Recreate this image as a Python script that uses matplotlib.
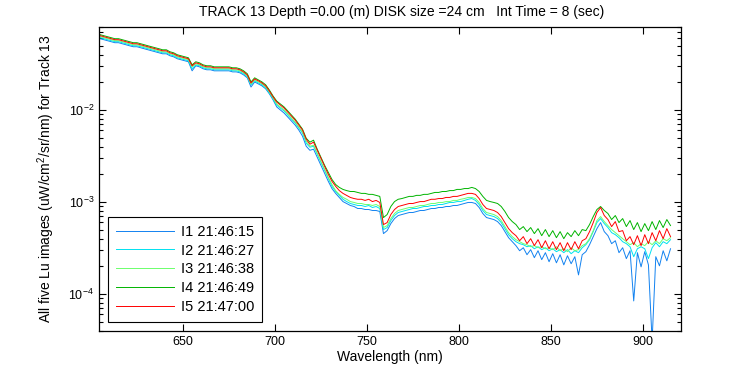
import matplotlib

matplotlib.use("Agg")
import matplotlib.pyplot as plt
import numpy as np

plt.rcParams["font.family"] = ["Liberation Sans", "DejaVu Sans"]
plt.rcParams["mathtext.default"] = "regular"

# wavelength grid (nm), 2 nm sampling
wavelength = np.arange(605, 916, 2)

labels = ["I1 21:46:15", "I2 21:46:27", "I3 21:46:38", "I4 21:46:49", "I5 21:47:00"]
colors = ["#1282f0", "#00e1f0", "#6cff6c", "#00b400", "#ff0000"]

# Lu (uW/cm^2/sr/nm)
lu_i1 = [
    .0597, .0582, .0568, .0554, .0540, .0540, .0526, .0513, .0500, .0488, .0488, .0476, .0464, .0452, .0441, .0430,
    .0419, .0409, .0409, .0389, .0379, .0361, .0352, .0343, .0335, .0267, .0303, .0295, .0281, .0274, .0274, .0267,
    .0267, .0267, .0267, .0267, .0260, .0260, .0254, .0241, .0224, .0178, .0202, .0192, .0183, .0170, .0150, .0129,
    .0108, .0100, .00927, .00839, .00758, .00686, .00605, .00520, .00404, .00365, .00375, .00307, .00251, .00205,
    .00168, .00140, .00124, .00112, .00101, .000963, .000916, .000893, .000849,
    .000849, .000828, .000828, .000808, .000808, .000788, .000453, .000488, .000582, .000660, .000712, .000730,
    .000749, .000768, .000768, .000788, .000808, .000808, .000828, .000849, .000849, .000871, .000871, .000893,
    .000893, .000916, .000916, .000939, .000963, .000988, .000988, .000963, .000871, .000749, .000677, .000660,
    .000644, .000612, .000554, .000476, .000409, .000370,
    .000335, .000295, .000318, .000267, .000303, .000248, .000295, .000236, .000281, .000224, .000274, .000218,
    .000267, .000207, .000260, .000213, .000254, .000161, .000267, .000288, .000343, .000420, .000513, .000597,
    .000476, .000430, .000352, .000379, .000281, .000318, .000242, .000295, .0000839, .000281, .000197, .000288,
    .000207, .0000309, .000254, .000202, .000295, .000229, .000310,
]
lu_i2 = [
    .0613, .0597, .0582, .0568, .0554, .0554, .0540, .0526, .0513, .0500, .0500, .0488, .0476, .0464, .0452, .0441,
    .0430, .0419, .0419, .0399, .0389, .0370, .0361, .0352, .0343, .0281, .0310, .0303, .0288, .0281, .0281, .0274,
    .0274, .0274, .0274, .0274, .0267, .0267, .0260, .0248, .0230, .0188, .0208, .0197, .0188, .0174, .0153, .0132,
    .0113, .0105, .00975, .00882, .00797, .00721, .00636, .00561, .00436, .00394, .00404, .00331, .00270, .00221,
    .00181, .00148, .00130, .00118, .00107, .00101, .000963, .000939, .000916,
    .000916, .000893, .000916, .000871, .000893, .000849, .000501, .000527, .000628, .000712, .000768, .000788,
    .000808, .000828, .000849, .000849, .000871, .000893, .000893, .000916, .000916, .000939, .000939, .000963,
    .000988, .000988, .00101, .00101, .00104, .00107, .00109, .00104, .000939, .000808, .000730, .000712,
    .000694, .000660, .000597, .000513, .000441, .000399,
    .000370, .000352, .000343, .000326, .000335, .000310, .000326, .000303, .000318, .000295, .000310, .000288,
    .000303, .000281, .000303, .000274, .000295, .000281, .000318, .000343, .000389, .000476, .000597, .000660,
    .000582, .000527, .000464, .000441, .000409, .000370, .000352, .000326, .000254, .000310, .000326, .000310,
    .000242, .000318, .000361, .000326, .000370, .000352, .000389,
]
lu_i3 = [
    .0628, .0613, .0597, .0582, .0568, .0568, .0554, .0540, .0526, .0513, .0513, .0500, .0488, .0476, .0464, .0452,
    .0441, .0430, .0430, .0409, .0399, .0379, .0370, .0361, .0352, .0295, .0318, .0310, .0295, .0288, .0288, .0281,
    .0281, .0281, .0281, .0281, .0274, .0274, .0267, .0254, .0235, .0192, .0213, .0202, .0192, .0178, .0157, .0135,
    .0116, .0108, .0100, .00904, .00818, .00739, .00652, .00575, .00458, .00404, .00414, .00339, .00277, .00227,
    .00185, .00155, .00133, .00121, .00112, .00107, .00101, .000988, .000963,
    .000963, .000939, .000939, .000916, .000939, .000893, .000527, .000554, .000660, .000749, .000808, .000828,
    .000849, .000871, .000871, .000893, .000916, .000916, .000939, .000963, .000963, .000988, .000988, .00101,
    .00101, .00104, .00104, .00107, .00109, .00112, .00112, .00109, .000988, .000849, .000768, .000749,
    .000730, .000694, .000628, .000540, .000464, .000420,
    .000389, .000370, .000352, .000343, .000326, .000335, .000318, .000326, .000310, .000318, .000303, .000326,
    .000295, .000310, .000288, .000318, .000295, .000303, .000335, .000352, .000399, .000488, .000628, .000694,
    .000612, .000554, .000501, .000464, .000430, .000399, .000370, .000343, .000361, .000326, .000352, .000335,
    .000370, .000343, .000379, .000352, .000399, .000379, .000409,
]
lu_i4 = [
    .0660, .0644, .0628, .0613, .0597, .0597, .0582, .0568, .0554, .0540, .0540, .0526, .0513, .0500, .0488, .0476,
    .0464, .0452, .0452, .0430, .0419, .0399, .0389, .0379, .0370, .0310, .0335, .0326, .0310, .0303, .0303, .0295,
    .0295, .0295, .0295, .0295, .0288, .0288, .0281, .0267, .0248, .0202, .0224, .0213, .0202, .0188, .0165, .0142,
    .0125, .0116, .0108, .00975, .00882, .00797, .00703, .00620, .00494, .00447, .00470, .00375, .00307, .00251,
    .00210, .00176, .00155, .00144, .00137, .00133, .00130, .00130, .00127,
    .00124, .00124, .00121, .00121, .00118, .00115, .000677, .000730, .000893, .00101, .00107, .00109,
    .00112, .00115, .00115, .00118, .00118, .00121, .00121, .00124, .00127, .00127, .00130, .00130,
    .00133, .00133, .00137, .00137, .00140, .00140, .00144, .00140, .00130, .00115, .00104, .00101,
    .000988, .000963, .000893, .000788, .000677, .000612,
    .000568, .000501, .000540, .000476, .000527, .000453, .000513, .000430, .000501, .000420, .000488, .000409,
    .000476, .000399, .000464, .000420, .000488, .000430, .000501, .000488, .000568, .000694, .000828, .000893,
    .000808, .000749, .000644, .000712, .000597, .000660, .000540, .000628, .000501, .000597, .000476, .000582,
    .000488, .000612, .000501, .000628, .000527, .000644, .000554,
]
lu_i5 = [
    .0644, .0628, .0613, .0597, .0582, .0582, .0568, .0554, .0540, .0526, .0526, .0513, .0500, .0488, .0476, .0464,
    .0452, .0441, .0441, .0419, .0409, .0389, .0379, .0370, .0361, .0303, .0326, .0318, .0303, .0295, .0295, .0288,
    .0288, .0288, .0288, .0288, .0281, .0281, .0274, .0260, .0241, .0197, .0218, .0208, .0197, .0183, .0161, .0139,
    .0122, .0113, .0105, .00951, .00860, .00777, .00686, .00605, .00482, .00425, .00447, .00365, .00299, .00244,
    .00200, .00168, .00148, .00133, .00124, .00118, .00112, .00109, .00107,
    .00107, .00104, .00107, .00101, .00104, .000988, .000568, .000597, .000730, .000828, .000893, .000916,
    .000939, .000963, .000963, .000988, .00101, .00101, .00104, .00107, .00107, .00109, .00109, .00112,
    .00112, .00115, .00115, .00118, .00121, .00124, .00124, .00121, .00109, .000939, .000849, .000828,
    .000808, .000768, .000694, .000597, .000513, .000464,
    .000430, .000379, .000420, .000352, .000399, .000335, .000389, .000318, .000379, .000310, .000370, .000303,
    .000361, .000295, .000361, .000303, .000370, .000310, .000379, .000399, .000476, .000597, .000768, .000871,
    .000712, .000644, .000540, .000612, .000476, .000488, .000379, .000420, .000343, .000430, .000335, .000441,
    .000352, .000464, .000379, .000488, .000399, .000513, .000420,
]
series = [lu_i1, lu_i2, lu_i3, lu_i4, lu_i5]

fig = plt.figure(figsize=(7.5, 3.75), dpi=100)
ax = fig.add_axes([0.132, 0.1173, 0.776, 0.8107])
for values, color, label in zip(series, colors, labels):
    ax.plot(wavelength, values, color=color, linewidth=0.7, label=label)

ax.set_yscale("log")
ax.set_xlim(604.4, 920.7)
ax.set_ylim(3.95e-5, 0.08)
ax.set_xticks([650, 700, 750, 800, 850, 900])
ax.minorticks_off()
ax.yaxis.set_minor_locator(matplotlib.ticker.LogLocator(base=10, subs=np.arange(2, 10)))
ax.tick_params(which="both", direction="in", top=True, right=True, labelsize=9, width=0.8, colors="black")
ax.tick_params(which="major", length=5)
ax.tick_params(which="minor", length=3)
for spine in ax.spines.values():
    spine.set_linewidth(0.9)

ax.set_xlabel("Wavelength (nm)", fontsize=10)
ax.xaxis.set_label_coords(0.5, -0.064)
ax.set_ylabel("All five Lu images (uW/cm$^{2}$/sr/nm) for Track 13", fontsize=10)
ax.yaxis.set_label_coords(-0.072, 0.5)
fig.text(402 / 750, 1 - 12 / 375, "TRACK 13 Depth =0.00 (m) DISK size =24 cm   Int Time = 8 (sec)",
         ha="center", va="center", fontsize=10)

leg = ax.legend(loc="lower left", bbox_to_anchor=(108 / 750, 1 - 322 / 375), bbox_transform=fig.transFigure,
                borderaxespad=0, fontsize=10.5, handlelength=4.0, handletextpad=0.45, labelspacing=0.33,
                borderpad=0.55, fancybox=False, framealpha=1)
leg.get_frame().set_edgecolor("black")
leg.get_frame().set_linewidth(0.8)

fig.savefig("out.png", dpi=100)
